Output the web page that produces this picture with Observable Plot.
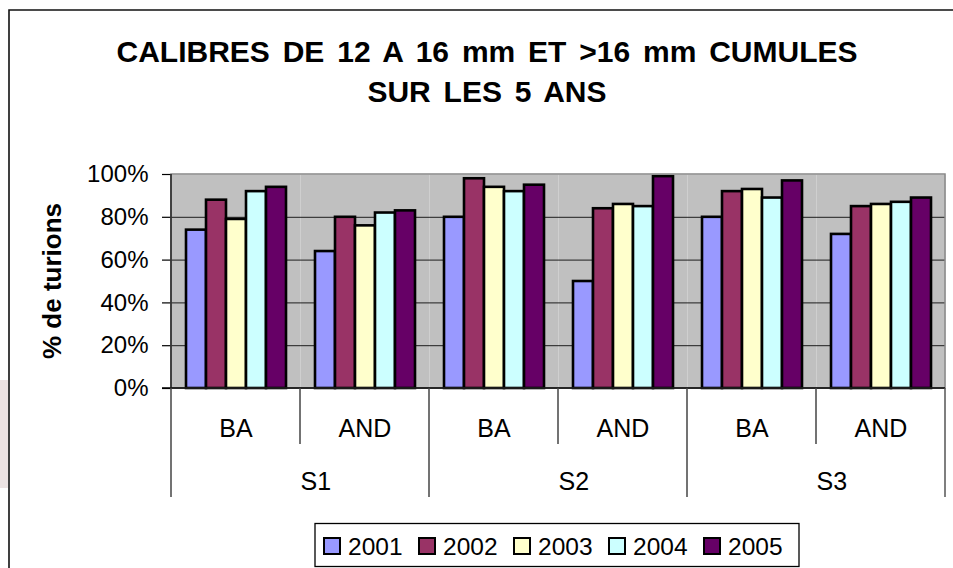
<!DOCTYPE html>
<html>
<head>
<meta charset="utf-8">
<script src="https://cdn.jsdelivr.net/npm/d3@7"></script>
<script src="https://cdn.jsdelivr.net/npm/@observablehq/plot@0.6"></script>
<style>
  html, body { margin: 0; padding: 0; background: #fff; overflow: hidden; }
  #chart { position: relative; width: 953px; height: 568px; }
  #chart svg { position: absolute; left: 0; top: 0; }
</style>
</head>
<body>
<div id="chart"></div>
<script>
// ---- data ----
const sites = ["S1", "S2", "S3"];
const treatments = ["BA", "AND"];
const years = ["2001", "2002", "2003", "2004", "2005"];
const yearColors = ["#9999FF", "#993366", "#FFFFCC", "#CCFFFF", "#660066"];
// values in %, order: S1-BA, S1-AND, S2-BA, S2-AND, S3-BA, S3-AND
const v2001 = [74, 64, 80, 50, 80, 72];
const v2002 = [88, 80, 98, 84, 92, 85];
const v2003 = [79, 76, 94, 86, 93, 86];
const v2004 = [92, 82, 92, 85, 89, 87];
const v2005 = [94, 83, 95, 99, 97, 89];
const yTicks = [0, 0.2, 0.4, 0.6, 0.8, 1];
const titleLines = ["CALIBRES DE 12 A 16 mm ET >16 mm CUMULES", "SUR LES 5 ANS"];
const yLabel = "% de turions";

const series = [v2001, v2002, v2003, v2004, v2005];
const groups = sites.flatMap(s => treatments.map(t => s + "|" + t));
const data = [];
groups.forEach((g, gi) => years.forEach((y, yi) => {
  data.push({group: g, year: y, value: series[yi][gi] / 100});
}));

const FONT = "'Liberation Sans', Arial, sans-serif";
const W = 953, H = 568, ML = 170, MR = 8, MT = 174, MB = 180;

const plot = Plot.plot({
  width: W, height: H,
  marginLeft: ML, marginRight: MR, marginTop: MT, marginBottom: MB,
  style: {fontFamily: FONT, background: "transparent", color: "#000", overflow: "visible"},
  fx: {domain: groups, padding: 0, label: null},
  x: {domain: years, paddingInner: 0, paddingOuter: 0.7, axis: null},
  y: {domain: [0, 1], label: null},
  color: {domain: years, range: yearColors},
  marks: [
    Plot.frame({fill: "#c0c0c0", stroke: null}),
    Plot.gridY([0.2, 0.4, 0.6, 0.8], {stroke: "#000", strokeOpacity: 0.85, strokeWidth: 1}),
    Plot.barY(data, {fx: "group", x: "year", y: "value", fill: "year", stroke: "#000", strokeWidth: 2.6, inset: 0}),
    Plot.axisY({ticks: yTicks, tickFormat: d3.format(".0%"), tickSize: 9, tickPadding: 14,
                fontSize: 24, label: null, stroke: "#000", strokeWidth: 1.2}),
    Plot.axisFx({anchor: "bottom", tickFormat: d => d.split("|")[1], tickSize: 0, tickPadding: 31, fontSize: 25, label: null}),
    Plot.text(sites, {fx: d => d + "|AND", frameAnchor: "bottom-left", text: d => d, dy: 101, fontSize: 25, fill: "#000"})
  ]
});
document.getElementById("chart").appendChild(plot);

const svg = d3.select(plot);
const fx = plot.scale("fx");
const yS = plot.scale("y");
const color = plot.scale("color");
const bw = fx.bandwidth;
const left = fx.apply(groups[0]);
const right = fx.apply(groups[groups.length - 1]) + bw;
const y0 = yS.apply(0), y1 = yS.apply(1);

const overlay = svg.append("g").attr("text-anchor", "start");
// plot area border
overlay.append("rect").attr("x", left).attr("y", y1).attr("width", right - left).attr("height", y0 - y1)
  .attr("fill", "none").attr("stroke", "#888").attr("stroke-width", 1.5);
// x axis line
overlay.append("line").attr("x1", left - 9).attr("x2", right).attr("y1", y0).attr("y2", y0)
  .attr("stroke", "#000").attr("stroke-width", 1.5);
// y axis line
overlay.append("line").attr("x1", left).attr("x2", left).attr("y1", y1).attr("y2", y0)
  .attr("stroke", "#222").attr("stroke-width", 1.5);
// category dividers
groups.forEach((g, i) => {
  const x = fx.apply(g);
  const major = i % treatments.length === 0;
  overlay.append("line").attr("x1", x).attr("x2", x).attr("y1", y0).attr("y2", y0 + (major ? 109 : 56))
    .attr("stroke", "#444").attr("stroke-width", 1.5);
});
overlay.append("line").attr("x1", right).attr("x2", right).attr("y1", y0).attr("y2", y0 + 109)
  .attr("stroke", "#555").attr("stroke-width", 1.5);

// outer chart border
overlay.append("path").attr("d", `M9,${H + 5}V10H${W + 5}`).attr("fill", "none")
  .attr("stroke", "#111").attr("stroke-width", 1.6);
// faint strip at left edge
overlay.append("rect").attr("x", 0).attr("y", 380).attr("width", 8).attr("height", 108).attr("fill", "#ece3e3");

// title
titleLines.forEach((t, i) => {
  overlay.append("text").attr("x", 487).attr("y", 62 + i * 40).attr("text-anchor", "middle")
    .attr("font-family", FONT).attr("font-weight", "bold").attr("font-size", 30)
    .attr("word-spacing", 4.5).attr("fill", "#000").text(t);
});
// y label
overlay.append("text").attr("transform", `translate(61,${(y0 + y1) / 2}) rotate(-90)`)
  .attr("text-anchor", "middle").attr("font-family", FONT).attr("font-weight", "bold")
  .attr("font-size", 26).attr("fill", "#000").text(yLabel);

// legend
const lg = overlay.append("g").attr("text-anchor", "start");
lg.append("rect").attr("x", 315).attr("y", 523.5).attr("width", 484).attr("height", 43)
  .attr("fill", "#fff").attr("stroke", "#000").attr("stroke-width", 1.3);
years.forEach((yr, i) => {
  const x = 324 + i * 95;
  lg.append("rect").attr("x", x).attr("y", 538).attr("width", 16).attr("height", 16)
    .attr("fill", color.apply(yr)).attr("stroke", "#000").attr("stroke-width", 2);
  lg.append("text").attr("x", x + 24).attr("y", 555).attr("text-anchor", "start")
    .attr("font-family", FONT).attr("font-size", 24.5).attr("fill", "#000").text(yr);
});
</script>
</body>
</html>
